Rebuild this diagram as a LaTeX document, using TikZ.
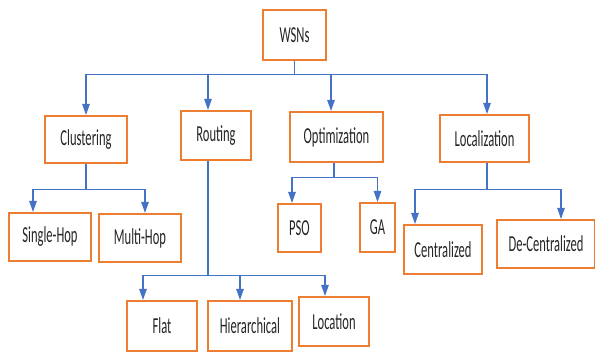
\documentclass[tikz,border=0pt]{standalone}
\usepackage{fontspec}
\setmainfont{Carlito}
\usepackage{graphicx}
\usepackage{xcolor}
\usepackage{tikz}
\usetikzlibrary{positioning,arrows.meta}
\definecolor{boxline}{HTML}{ED7D31}
\definecolor{wire}{HTML}{4472C4}
\definecolor{ink}{HTML}{262626}
\newcommand{\narrow}[1]{\scalebox{0.55}[1]{#1}}

\begin{document}
\begin{tikzpicture}[
  every node/.style={align=center, font=\fontsize{13}{15}\selectfont, text=ink},
  cat/.style={
    rectangle, draw=boxline, line width=1.2pt, fill=white,
    minimum height=0.96cm, inner sep=0pt
  },
  flow/.style={-{Triangle[length=2.2mm,width=1.5mm]}, line width=0.6pt, draw=wire},
]
\useasboundingbox (0,0) rectangle (11.9,-7.04);

% Root and first level
\node[cat, minimum width=1.26cm, minimum height=1.0cm] (wsn)  at (5.89,-0.70) {\narrow{WSNs}};
\node[cat, minimum width=1.64cm, minimum height=0.94cm] (clus) at (1.72,-2.79) {\narrow{Clustering}};
\node[cat, minimum width=1.40cm, minimum height=0.98cm] (rout) at (4.32,-2.71) {\narrow{Routing}};
\node[cat, minimum width=1.86cm, minimum height=1.0cm]  (opt)  at (6.73,-2.74) {\narrow{Optimization}};
\node[cat, minimum width=1.78cm, minimum height=0.94cm] (loc)  at (9.69,-2.77) {\narrow{Localization}};

% Second level
\node[cat, minimum width=1.64cm] (single) at (1.00,-4.74) {\narrow{Single-Hop}};
\node[cat, minimum width=1.64cm] (multi)  at (2.80,-4.76) {\narrow{Multi-Hop}};
\node[cat, minimum width=0.86cm] (pso)    at (5.99,-4.56) {\narrow{PSO}};
\node[cat, minimum width=0.70cm, minimum height=0.98cm] (ga) at (7.55,-4.55) {\narrow{GA}};
\node[cat, minimum width=1.56cm, minimum height=0.98cm] (cent)  at (8.86,-4.99)  {\narrow{Centralized}};
\node[cat, minimum width=1.96cm] (decent) at (10.92,-4.88) {\narrow{De-Centralized}};
\node[cat, minimum width=1.40cm, minimum height=1.0cm]  (flat)  at (3.24,-6.52) {\narrow{Flat}};
\node[cat, minimum width=1.68cm, minimum height=1.0cm]  (hier)  at (5.00,-6.52) {\narrow{Hierarchical}};
\node[cat, minimum width=1.40cm, minimum height=0.98cm] (locat) at (6.68,-6.43) {\narrow{Location}};

% WSNs ──► four categories
\draw[flow] (wsn.south) -- ++(0,-0.26) -| (clus.north);
\draw[flow] (wsn.south) -- ++(0,-0.26) -| ([xshift=-0.16cm]rout.north);
\draw[flow] (wsn.south) -- ++(0,-0.26) -| ([xshift=-0.11cm]opt.north);
\draw[flow] (wsn.south) -- ++(0,-0.26) -| ([xshift=0.05cm]loc.north);

% Clustering
\draw[flow] (clus.south) -- ++(0,-0.50) -| ([xshift=-0.34cm]single.north);
\draw[flow] (clus.south) -- ++(0,-0.50) -| ([xshift=0.10cm]multi.north);

% Routing
\draw[flow] ([xshift=-0.16cm]rout.south) -- ++(0,-2.28) -| ([xshift=-0.38cm]flat.north);
\draw[flow] ([xshift=-0.16cm]rout.south) -- ++(0,-2.28) -| ([xshift=-0.20cm]hier.north);
\draw[flow] ([xshift=-0.16cm]rout.south) -- ++(0,-2.28) -| ([xshift=-0.18cm]locat.north);

% Optimization
\draw[flow] ([xshift=-0.05cm]opt.south) -- ++(0,-0.28) -| ([xshift=-0.15cm]pso.north);
\draw[flow] ([xshift=-0.05cm]opt.south) -- ++(0,-0.28) -| (ga.north);

% Localization
\draw[flow] ([xshift=0.05cm]loc.south) -- ++(0,-0.52) -| ([xshift=-0.56cm]cent.north);
\draw[flow] ([xshift=0.05cm]loc.south) -- ++(0,-0.52) -| ([xshift=0.30cm]decent.north);
\end{tikzpicture}
\end{document}
